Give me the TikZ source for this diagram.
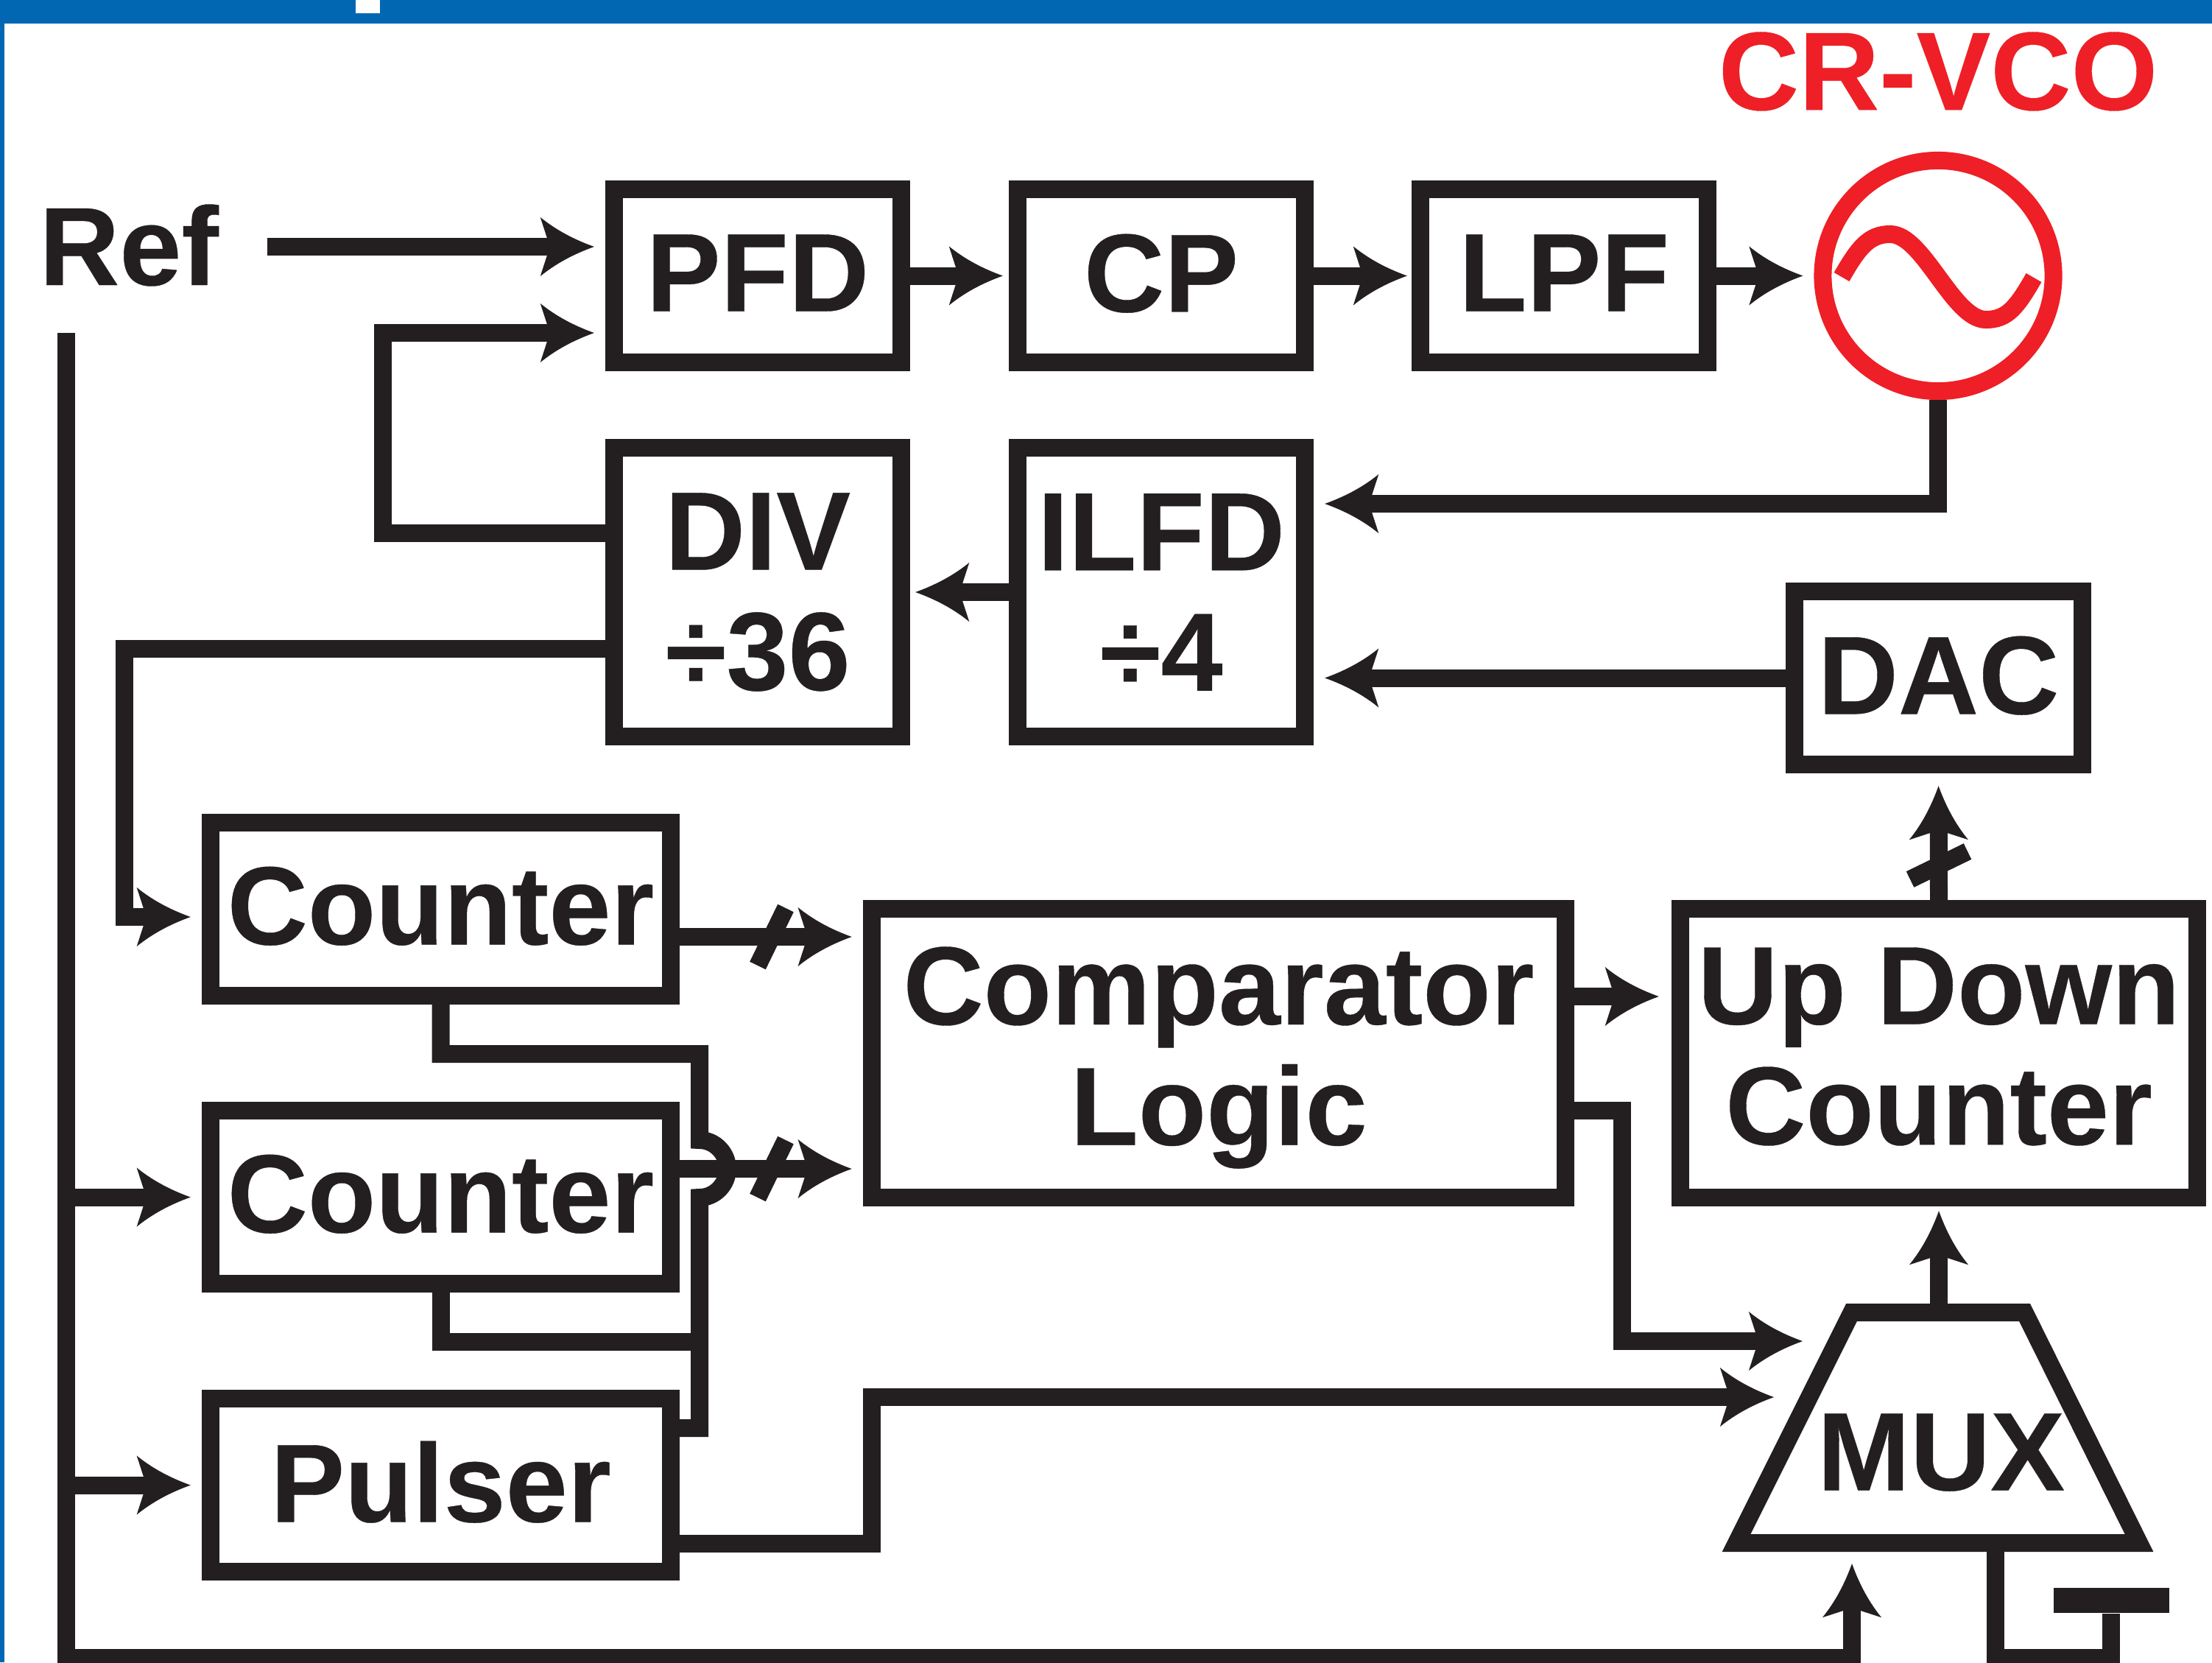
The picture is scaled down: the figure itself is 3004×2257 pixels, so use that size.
\documentclass[tikz,border=0pt]{standalone}
\usepackage{fontspec}
\setmainfont{Liberation Sans}[BoldFeatures={FakeBold=0.25}]
\definecolor{ink}{RGB}{35,31,32}
\definecolor{vcored}{RGB}{238,31,38}
\definecolor{barblue}{RGB}{1,103,179}
\newcommand{\blockfont}{\fontsize{43}{46.5}\selectfont\bfseries}
% swept back arrow head with hollow sides
\pgfdeclarearrow{
	name = Barb,
	setup code = {
		\pgfarrowssettipend{20.8pt}
		\pgfarrowssetbackend{0pt}
		\pgfarrowssetlineend{8pt}
		\pgfarrowssetvisualbackend{3.7pt}
	},
	drawing code = {
		\pgfpathmoveto{\pgfqpoint{20.8pt}{0pt}}
		\pgfpathcurveto{\pgfqpoint{13pt}{2.8pt}}{\pgfqpoint{6pt}{6.5pt}}{\pgfqpoint{0pt}{11.4pt}}
		\pgfpathlineto{\pgfqpoint{3.7pt}{0pt}}
		\pgfpathlineto{\pgfqpoint{0pt}{-11.4pt}}
		\pgfpathcurveto{\pgfqpoint{6pt}{-6.5pt}}{\pgfqpoint{13pt}{-2.8pt}}{\pgfqpoint{20.8pt}{0pt}}
		\pgfusepathqfill
	}
}
\tikzset{
	wire/.style={draw=ink, line width=.24cm},
	freetext/.style={text=ink, inner sep=0pt, align=center, font=\blockfont},
	blockbox/.style={draw=ink, text=ink, line width=.24cm, inner sep=0pt, align=center, font=\blockfont},
	shortbox/.style={blockbox, text depth=.08cm, minimum width=3.9cm, minimum height=2.35cm},
	tallbox/.style={blockbox, minimum width=3.9cm, minimum height=3.92cm},
	countbox/.style={blockbox, text depth=.1cm, minimum width=6.25cm, minimum height=2.35cm},
}
\begin{document}
\begin{tikzpicture}[>=Barb, x=.01cm, y=-.01cm]
	\useasboundingbox (0,0) rectangle (3004,2257);
	\fill[barblue] (0,0) rectangle (3004,32); %top bar
	\fill[barblue] (0,0) rectangle (6,2257);
	\fill[white] (483,0) rectangle (516,18);
	% blocks
	\node[shortbox] (pfd) at (1029,374.5) {PFD};
	\node[shortbox] (cp) at (1577,374.5) {CP};
	\node[shortbox] (lpf) at (2124,374.5) {LPF};
	\node[tallbox] (div) at (1029,804) {DIV\\÷36};
	\node[tallbox] (ilfd) at (1577,804) {ILFD\\÷4};
	\node[shortbox] (dac) at (2632.5,920.5) {DAC};
	\node[countbox] (cntone) at (598.5,1234.5) {Counter};
	\node[countbox] (cnttwo) at (598.5,1625.5) {Counter};
	\node[countbox] (pulser) at (598.5,2016.5) {Pulser};
	\node[blockbox, minimum width=9.42cm, minimum height=3.92cm] (comp) at (1655,1430) {};
	\node[freetext] (comptext) at (1655,1436) {Comparator\\Logic};
	\node[blockbox, minimum width=7.02cm, minimum height=3.92cm] (updown) at (2633,1430) {};
	\node[freetext] (updowntext) at (2633,1421) {Up Down\\Counter};
	\node[draw=vcored, line width=.24cm, circle, inner sep=0pt, minimum size=3.13cm] (vco) at (2632,374.5) {};
	\draw[wire] (2514.5,1782) -- (2749.5,1782) -- (2905,2095) -- (2358,2095) -- cycle; %mux outline
	\coordinate (muxtop) at (2633,1770);
	\coordinate (muxbot) at (2632,2107);
	\node[freetext] (muxtext) at (2636,1972) {MUX};
	\node[freetext] (ref) at (175,333) {Ref};
	\node[freetext, text=vcored] (vcotitle) at (2632,97) {CR-VCO};
	\node[fill=ink, inner sep=0pt, minimum width=1.57cm, minimum height=.34cm] (gnd) at (2867,2173) {};
	\coordinate (refout) at (363,335);
	\coordinate (reftap) at (90,452);
	% sine in the oscillator
	\draw[draw=vcored, line width=.24cm] (2501,376) .. controls (2524,336) and (2538,318) .. (2567,318) .. controls (2612,318) and (2652,434) .. (2697,434) .. controls (2726,434) and (2739,417) .. (2762,377);
	% top row
	\draw[wire, ->, shorten >=.08cm] (pfd.east) -- (cp.west);
	\draw[wire, ->, shorten >=.06cm] (cp.east) -- (lpf.west);
	\draw[wire, ->, shorten >=.15cm] (lpf.east) -- (vco.west);
	\draw[wire, ->, shorten >=.15cm] (refout) -- (pfd.west |- 0,335);
	\draw[wire, ->, shorten >=.15cm] (div.west |- 0,724) -- (520,724) -- (520,452) -- (pfd.west |- 0,452);
	% feedback
	\draw[wire, ->, shorten >=.15cm] (vco.south) |- (ilfd.east |- 0,684);
	\draw[wire, ->, shorten >=.15cm] (dac.west) -- (ilfd.east |- dac.west);
	\draw[wire, ->, shorten >=.07cm] (ilfd.west) -- (div.east);
	\draw[wire, ->, shorten >=.15cm] (div.west |- 0,881) -- (169,881) -- (169,1245) -- (cntone.west |- 0,1245);
	% reference line
	\draw[wire, ->, shorten >=.16cm] (reftap) -- (90,2251) -- (2515,2251) -- (2515,0 |- muxbot);
	\draw[wire, ->, shorten >=.15cm] (reftap |- cnttwo.west) -- (cnttwo.west);
	\draw[wire, ->, shorten >=.15cm] (reftap |- pulser.west) -- (pulser.west);
	% counters to the logic block
	\draw[wire, ->, shorten >=.15cm] (cntone.east |- 0,1272) -- (comp.west |- 0,1272);
	\draw[wire, ->, shorten >=.15cm] (cnttwo.east |- 0,1587) -- (comp.west |- 0,1587);
	\foreach \y in {1272,1587}{\draw[wire] (1067,{\y-39}) -- (1029,{\y+39});}
	\draw[wire] (cntone.south) |- (950,1431) -- (950,1548) .. controls (971,1548) and (988,1566) .. (988,1587) .. controls (988,1608) and (971,1626) .. (950,1626) -- (950,1939) -- (pulser.east |- 0,1939);
	\draw[wire] (cnttwo.south) |- (950,1822);
	% right side
	\draw[wire, ->, shorten >=.17cm] (comp.east |- 0,1353) -- (updown.west |- 0,1353);
	\draw[wire, ->, shorten >=.17cm] (updown.north) -- (dac.south);
	\draw[wire] (2594,1194) -- (2672,1156); %bus mark
	\draw[wire, ->, shorten >=.06cm] (muxtop) -- (updown.south);
	\draw[wire, ->] (comp.east |- 0,1508) -- (2203,1508) -- (2203,1821) -- (2448,1821);
	\draw[wire, ->] (pulser.east |- 0,2096) -- (1184,2096) -- (1184,1897) -- (2409,1897);
	\draw[wire] (2710,0 |- muxbot) -- (2710,2251) -| (gnd.south);
\end{tikzpicture}
\end{document}
